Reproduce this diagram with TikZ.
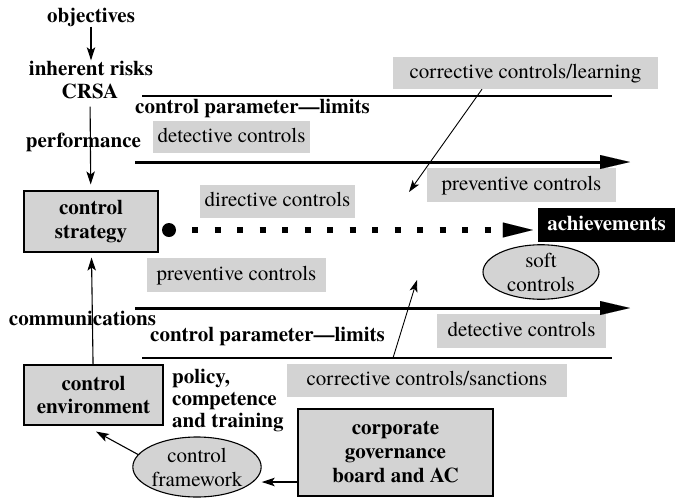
\documentclass[tikz,border=0pt]{standalone}
\usepackage{fontspec}
\setmainfont{TeX Gyre Termes}
\usetikzlibrary{arrows.meta,shapes.geometric,calc}
\definecolor{boxgray}{RGB}{211,211,211}
\begin{document}
\begin{tikzpicture}[x=1pt,y=-1pt,
  every node/.style={font=\fontsize{21}{23}\selectfont, inner sep=0pt},
  lbl/.style={font=\fontsize{21}{23}\selectfont\bfseries, text height=14.5pt, text depth=4.5pt},
  gbox/.style={fill=boxgray, text height=14.5pt, text depth=4.5pt},
  bbox/.style={draw, line width=1.1pt, fill=boxgray, align=center, font=\fontsize{21}{23.5}\selectfont\bfseries},
  ell/.style={ellipse, draw, line width=1.1pt, fill=boxgray, align=center, font=\fontsize{21}{24}\selectfont},
  arr/.style={line width=1.1pt, -{Stealth[length=13pt,width=8.5pt,inset=3pt]}},
  darr/.style={line width=0.9pt, -{Stealth[length=12pt,width=8pt,inset=3pt]}},
  bigarr/.style={line width=3pt, -{Triangle[length=30pt,width=14pt,line width=0.01pt]}},
  thinline/.style={line width=1.3pt}]
\useasboundingbox (0,0) rectangle (675,499);

% gray label boxes
\node[gbox, minimum width=265, minimum height=32] (learn) at (525.5,73) {corrective controls/learning};
\node[gbox, minimum width=157, minimum height=32] (det1) at (231.5,137) {detective controls};
\node[gbox, minimum width=189, minimum height=34] (prev1) at (521.5,185) {preventive controls};
\node[gbox, minimum width=155, minimum height=33] (dir) at (277.5,201.5) {directive controls};
\node[gbox, minimum width=179, minimum height=34] (prev2) at (236.5,275) {preventive controls};
\node[gbox, minimum width=169, minimum height=34] (det2) at (521.5,331) {detective controls};
\node[gbox, minimum width=280, minimum height=33] (sanc) at (427,380.5) {corrective controls/sanctions};

% bold labels
\node[lbl] (obj) at (91,17) {objectives};
\node[lbl] (inh) at (91,70) {inherent risks};
\node[lbl] (crsa) at (90,93) {CRSA};
\node[lbl] (perf) at (83.5,142) {performance};
\node[lbl] (comm) at (82.5,320) {communications};
\node[lbl] (cp1) at (252.5,108.5) {control parameter—limits};
\node[lbl] (cp2) at (267.5,336) {control parameter—limits};
\node[anchor=west, align=left, font=\fontsize{21}{22}\selectfont\bfseries] (pol) at (172,400) {policy,\\competence\\and training};

% boxes
\node[bbox, minimum width=134, minimum height=61] (strat) at (91,221.5) {control\\strategy};
\node[bbox, minimum width=139, minimum height=60] (env) at (93.5,395) {control\\environment};
\node[bbox, minimum width=195, minimum height=87, font=\fontsize{21}{24}\selectfont\bfseries] (corp) at (395.5,452.5) {corporate\\governance\\board and AC};
\node[fill=black, text=white, font=\fontsize{21}{23}\selectfont\bfseries, text height=14.5pt, text depth=4.5pt, minimum width=137, minimum height=34] (ach) at (606.5,225) {achievements};

% ellipses
\node[ell, minimum width=116, minimum height=54] (soft) at (541,272) {soft\\controls};
\node[ell, minimum width=122, minimum height=60] (fw) at (197,467) {control\\framework};

% dot
\node[circle, fill=black, minimum size=14pt] (dot) at (169,230) {};

% free coordinates
\coordinate (l1s) at (142,96);
\coordinate (l1e) at (612,96);
\coordinate (a1s) at (135,162);
\coordinate (a1e) at (630,162);
\coordinate (a2s) at (135,308);
\coordinate (a2e) at (630,308);
\coordinate (l2s) at (142,358);
\coordinate (l2e) at (612,358);
\coordinate (t1) at (409,192);
\coordinate (s2) at (393,358);
\coordinate (t2) at (417,280);

% lines
\draw[thinline] (l1s) -- (l1e);
\draw[thinline] (l2s) -- (l2e);
\draw[bigarr] (a1s) -- (a1e);
\draw[bigarr] (a2s) -- (a2e);
\draw[line width=6pt, dash pattern=on 6pt off 16.5pt, dash phase=6.5pt,
      -{Triangle[length=30pt,width=15pt,line width=0.01pt]}, shorten >=5pt]
      (dot.east) -- (dot.east -| ach.west);

% connectors
\draw[arr] (obj) -- (inh);
\draw[arr, shorten <=4pt, shorten >=6pt] (crsa) -- (strat);
\draw[arr, shorten >=5pt] (env) -- (strat);
\draw[arr] (fw.168) -- ($(env.south)+(2.5,6)$);
\draw[arr] ($(corp.west)+(0,29.5)$) -- ($(fw.east)+(0,15)$);
\draw[darr] ($(learn.south)+(-43.5,0)$) -- (t1);
\draw[darr] (s2) -- (t2);
\end{tikzpicture}
\end{document}
